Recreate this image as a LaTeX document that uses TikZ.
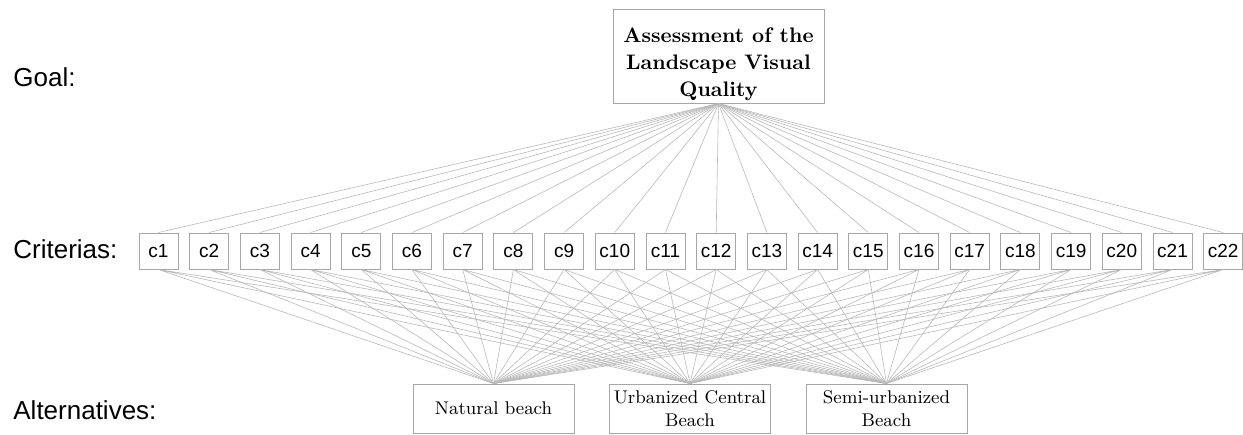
\documentclass[tikz,border=0pt]{standalone}
\usepackage{fontspec}
\setsansfont{Liberation Sans}
\begin{document}
\begin{tikzpicture}[x=0.5pt,y=-0.5pt,
    box/.style={draw=gray!70, line width=0.5pt, inner sep=0pt},
    crit/.style={box, minimum width=19.5pt, minimum height=18pt, font=\sffamily\fontsize{9.5}{11}\selectfont},
    alt/.style={box, minimum width=80.5pt, minimum height=24.5pt, align=center, font=\fontsize{9.2}{11.5}\selectfont},
    level/.style={anchor=west, inner sep=0pt, font=\sffamily\fontsize{13}{15}\selectfont},
    wire/.style={gray!55, line width=0.3pt}]
\useasboundingbox (0,0) rectangle (1243,434);
% level names
\node[level] (lgoal) at (13,77.5) {Goal:};
\node[level] (lcrit) at (13,249) {Criterias:};
\node[level] (lalt) at (13,410.5) {Alternatives:};
% goal
\node[box, minimum width=105.5pt, minimum height=47pt, font=\bfseries\fontsize{10.5}{13.5}\selectfont] (goal) at (718.5,56)
    {\raisebox{-4pt}[\height][\depth]{\begin{tabular}{@{}c@{}}Assessment of the\\Landscape Visual\\Quality\end{tabular}}};
% criteria
\foreach \i in {1,...,22}
    \node[crit] (c\i) at ({158.5+(\i-1)*50.7},251) {c\i};
% alternatives
\node[alt] (nat) at (493.5,408.5) {Natural beach};
\node[alt] (urb) at (690,408.5) {Urbanized Central\\Beach};
\node[alt] (semi) at (886.5,408.5) {Semi-urbanized\\Beach};
\foreach \i in {1,...,22}
    \draw[wire] (goal.south) -- (c\i.north)
        (c\i.south) -- (nat.north)
        (c\i.south) -- (urb.north)
        (c\i.south) -- (semi.north);
\end{tikzpicture}
\end{document}
